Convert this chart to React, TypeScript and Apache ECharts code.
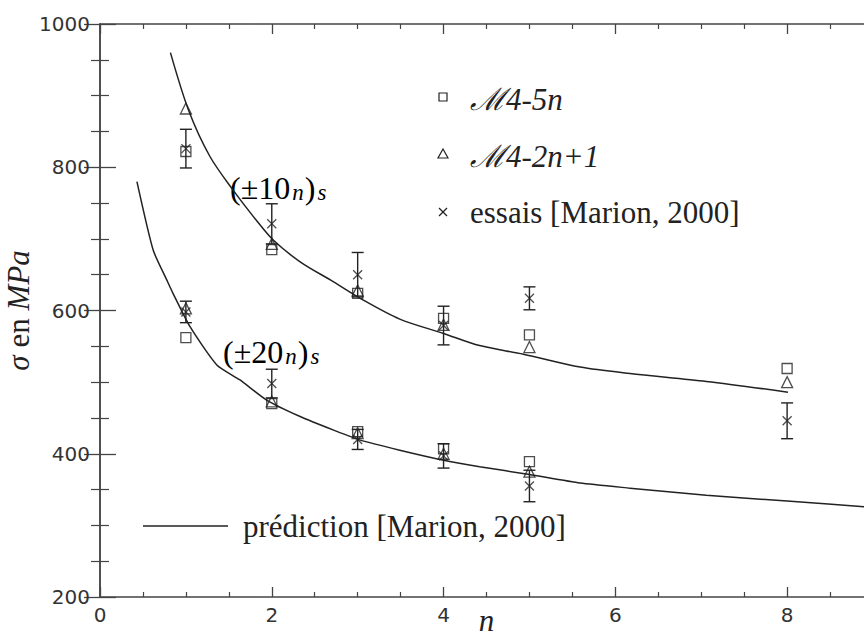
import React, { useEffect, useRef } from "react";
import * as echarts from "echarts";

// n values of the tested laminates
const nValues = [1, 2, 3, 4, 5, 8];
const nValues20 = [1, 2, 3, 4, 5];

// (±10n)s laminates
const sq10 = [822, 685, 624, 589, 566, 519];
const tri10 = [882, 693, 628, 580, 549, 500];
const essais10 = [826, 721, 650, 579, 617, 446];
const err10 = [27, 28, 31, 27, 16, 25];

// (±20n)s laminates
const sq20 = [562, 470, 431, 407, 389];
const tri20 = [603, 473, 429, 400, 375];
const essais20 = [598, 498, 420, 397, 355];
const err20 = [15, 20, 14, 17, 22];

// prediction curves [Marion, 2000]
const pred10X = [0.82, 1.03, 1.28, 1.55, 1.82, 2.02, 2.33, 2.72, 3.03, 3.49, 4.0, 4.42, 4.93, 5.59, 6.17, 7.06, 8.01];
const pred10Y = [960, 880, 815, 768, 726, 698, 668, 640, 617, 588, 568, 551, 539, 521, 512, 501, 486];
const pred20X = [0.43, 0.62, 0.78, 0.85, 1.05, 1.36, 1.63, 1.94, 2.33, 2.72, 3.03, 3.49, 4.0, 4.42, 5.0, 5.59, 6.17, 7.06, 8.0, 9.0];
const pred20Y = [780, 684, 642, 624, 577, 524, 503, 475, 452, 433, 419, 405, 391, 382, 371, 359, 352, 342, 334, 325];

const legendLabels = ["ℳ4-5n", "ℳ4-2n+1", "essais [Marion, 2000]", "prédiction [Marion, 2000]"];

const INK = "#222";
const AXIS = "#444";
const SERIF = "Liberation Serif";
const CROSS = "path://M0,0L10,10M10,0L0,10";

function pairs(xs: number[], ys: number[]) {
  return xs.map((x, i) => [x, ys[i]]);
}

function errData(xs: number[], vals: number[], errs: number[]) {
  return xs.map((x, i) => [x, vals[i] - errs[i], vals[i] + errs[i]]);
}

const renderErr = (params: any, api: any) => {
  const x = api.value(0);
  const lo = api.value(1);
  const hi = api.value(2);
  const pTop = api.coord([x, hi]);
  const pBot = api.coord([x, lo]);
  const hw = 6;
  const style = { stroke: INK, lineWidth: 1.4, fill: "none" };
  return {
    type: "group",
    children: [
      { type: "line", shape: { x1: pTop[0], y1: pTop[1], x2: pBot[0], y2: pBot[1] }, style },
      { type: "line", shape: { x1: pTop[0] - hw, y1: pTop[1], x2: pTop[0] + hw, y2: pTop[1] }, style },
      { type: "line", shape: { x1: pBot[0] - hw, y1: pBot[1], x2: pBot[0] + hw, y2: pBot[1] }, style },
    ],
  };
};

const hollow = { color: "rgba(0,0,0,0)", borderColor: INK, borderWidth: 1.3 };

function scatter(name: string, symbol: string, size: number, data: number[][]) {
  return {
    type: "scatter",
    name,
    symbol,
    symbolSize: size,
    data,
    itemStyle: hollow,
    z: 4,
  };
}

export default function App() {
  const ref = useRef<HTMLDivElement>(null);

  useEffect(() => {
    const chart = echarts.init(ref.current!, null, { renderer: "svg" });

    const xCommon = {
      type: "value",
      min: 0,
      max: 9,
      interval: 2,
      splitLine: { show: false },
      axisLine: { show: true, lineStyle: { color: AXIS, width: 1.5 } },
      axisTick: { show: true, inside: true, length: 10, lineStyle: { color: AXIS, width: 1.3 } },
      minorTick: { show: true, splitNumber: 4, length: 5, lineStyle: { color: AXIS, width: 1.2 } },
    };
    const yCommon = {
      type: "value",
      min: 200,
      max: 1000,
      interval: 200,
      splitLine: { show: false },
      axisLine: { show: true, lineStyle: { color: AXIS, width: 1.5 } },
      axisTick: { show: true, inside: true, length: 16, lineStyle: { color: AXIS, width: 1.3 } },
      minorTick: { show: true, splitNumber: 4, length: 9, lineStyle: { color: AXIS, width: 1.2 } },
    };

    const textRich = {
      m: { fontFamily: SERIF, fontSize: 32, color: INK, lineHeight: 36, verticalAlign: "bottom" },
      s: {
        fontFamily: SERIF,
        fontSize: 23,
        fontStyle: "italic",
        color: INK,
        lineHeight: 12,
        verticalAlign: "bottom",
        padding: [0, 1, 0, 2],
      },
    };

    const option: any = {
      animation: false,
      backgroundColor: "#fff",
      grid: { left: 100, top: 24, right: -9, bottom: 39, containLabel: false, outerBoundsMode: "none" },
      xAxis: [
        {
          ...xCommon,
          position: "bottom",
          name: "n",
          nameLocation: "middle",
          nameGap: 8,
          nameMoveOverlap: false,
          nameTextStyle: { fontFamily: SERIF, fontStyle: "italic", fontSize: 31, color: INK },
          axisLabel: {
            fontFamily: "DejaVu Sans",
            fontSize: 20,
            color: "#333",
            margin: 8,
            showMaxLabel: false,
            formatter: (v: number) => String(v),
          },
        },
        { ...xCommon, position: "top", axisLabel: { show: false } },
      ],
      yAxis: [
        {
          ...yCommon,
          position: "left",
          name: "{i|σ}{r| en }{i|MPa}",
          nameLocation: "middle",
          nameGap: 66,
          nameMoveOverlap: false,
          nameTextStyle: {
            color: INK,
            rich: {
              r: { fontFamily: SERIF, fontSize: 31, color: INK },
              i: { fontFamily: SERIF, fontSize: 31, fontStyle: "italic", color: INK },
            },
          },
          axisLabel: {
            fontFamily: "DejaVu Sans",
            fontSize: 20,
            color: "#333",
            margin: 10,
            formatter: (v: number) => String(v),
          },
        },
        { ...yCommon, position: "right", axisLabel: { show: false } },
      ],
      graphic: [
        // legend: square
        { type: "rect", shape: { x: 439, y: 93, width: 8, height: 8 }, style: { fill: "none", stroke: INK, lineWidth: 1.2 } },
        {
          type: "text",
          x: 470,
          y: 99,
          style: { text: legendLabels[0], fontFamily: SERIF, fontStyle: "italic", fontSize: 31, fill: INK, verticalAlign: "middle" },
        },
        // legend: triangle
        { type: "polygon", shape: { points: [[443, 149], [448, 158], [438, 158]] }, style: { fill: "none", stroke: INK, lineWidth: 1.2 } },
        {
          type: "text",
          x: 470,
          y: 156,
          style: { text: legendLabels[1], fontFamily: SERIF, fontStyle: "italic", fontSize: 31, fill: INK, verticalAlign: "middle" },
        },
        // legend: cross
        { type: "line", shape: { x1: 439, y1: 208, x2: 447, y2: 216 }, style: { stroke: INK, lineWidth: 1.2 } },
        { type: "line", shape: { x1: 447, y1: 208, x2: 439, y2: 216 }, style: { stroke: INK, lineWidth: 1.2 } },
        {
          type: "text",
          x: 470,
          y: 212,
          style: { text: legendLabels[2], fontFamily: SERIF, fontSize: 31, fill: INK, verticalAlign: "middle" },
        },
        // legend: prediction line
        { type: "line", shape: { x1: 143, y1: 526, x2: 228, y2: 526 }, style: { stroke: INK, lineWidth: 1.5 } },
        {
          type: "text",
          x: 243,
          y: 526,
          style: { text: legendLabels[3], fontFamily: SERIF, fontSize: 31, fill: INK, verticalAlign: "middle" },
        },
        // curve annotations
        {
          type: "text",
          x: 230,
          y: 186,
          style: { text: "{m|(±10}{s|n}{m|)}{s|s}", rich: textRich, verticalAlign: "middle" },
        },
        {
          type: "text",
          x: 223,
          y: 350,
          style: { text: "{m|(±20}{s|n}{m|)}{s|s}", rich: textRich, verticalAlign: "middle" },
        },
      ],
      series: [
        {
          type: "line",
          name: "prédiction (±10n)s",
          data: pairs(pred10X, pred10Y),
          showSymbol: false,
          smooth: 0.3,
          lineStyle: { color: INK, width: 1.5 },
          z: 2,
        },
        {
          type: "line",
          name: "prédiction (±20n)s",
          data: pairs(pred20X, pred20Y),
          showSymbol: false,
          smooth: 0.2,
          lineStyle: { color: INK, width: 1.5 },
          z: 2,
        },
        {
          type: "custom",
          name: "err10",
          renderItem: renderErr,
          encode: { x: 0, y: [1, 2] },
          data: errData(nValues, essais10, err10),
          z: 3,
        },
        {
          type: "custom",
          name: "err20",
          renderItem: renderErr,
          encode: { x: 0, y: [1, 2] },
          data: errData(nValues20, essais20, err20),
          z: 3,
        },
        scatter("ℳ4-5n (±10n)s", "rect", 10, pairs(nValues, sq10)),
        scatter("ℳ4-2n+1 (±10n)s", "triangle", 11, pairs(nValues, tri10)),
        scatter("essais (±10n)s", CROSS, 9, pairs(nValues, essais10)),
        scatter("ℳ4-5n (±20n)s", "rect", 10, pairs(nValues20, sq20)),
        scatter("ℳ4-2n+1 (±20n)s", "triangle", 11, pairs(nValues20, tri20)),
        scatter("essais (±20n)s", CROSS, 9, pairs(nValues20, essais20)),
      ],
    };

    chart.setOption(option);
    return () => chart.dispose();
  }, []);

  return (
    <div
      ref={ref}
      style={{ position: "fixed", left: 0, top: 0, width: 864, height: 636, background: "#fff" }}
    />
  );
}
